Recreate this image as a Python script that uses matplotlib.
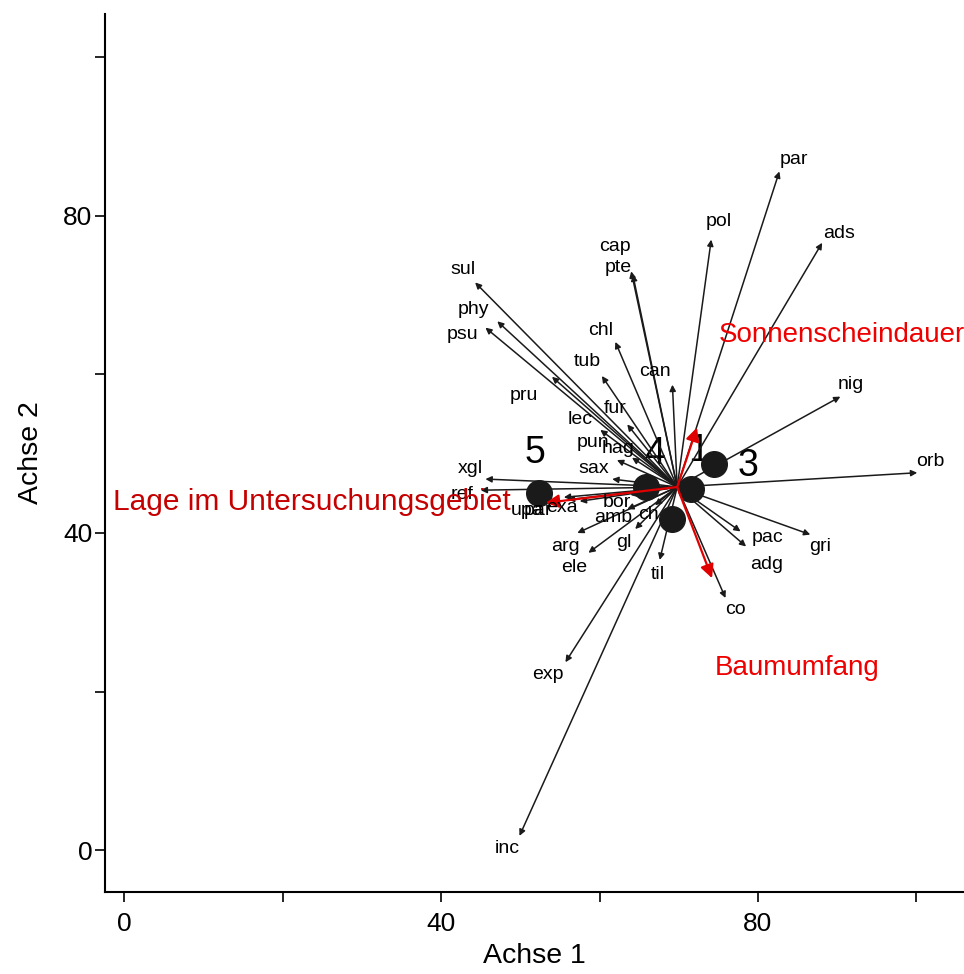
import numpy as np
import matplotlib
matplotlib.use("Agg")
import matplotlib.pyplot as plt

plt.rcParams["font.family"] = ["Liberation Sans", "DejaVu Sans"]

# Origin of all biplot arrows (centroid)
origin = (69.8, 45.8)

# Species arrows: name, arrow tip, label position
species = ["par", "ads", "pol", "cap", "pte", "sul", "phy", "psu", "chl", "tub",
           "can", "pru", "fur", "lec", "pun", "hag", "sax", "xgl", "ref", "upa",
           "par", "exa", "bor", "amb", "ch", "arg", "gl", "ele", "til", "exp",
           "inc", "co", "pac", "adg", "gri", "orb", "nig"]
tip_x = [82.7, 88.1, 74.1, 64.0, 64.2, 44.3, 47.1, 45.6, 62.0, 60.3,
         69.2, 54.0, 63.5, 60.1, 62.2, 64.1, 61.6, 45.6, 45.0, 55.5,
         56.0, 57.5, 63.9, 63.5, 67.0, 57.2, 64.5, 58.6, 67.6, 55.7,
         49.9, 75.9, 77.8, 78.5, 86.6, 100.1, 90.4]
tip_y = [85.6, 76.6, 77.0, 73.0, 72.6, 71.6, 66.7, 65.9, 64.1, 59.8,
         58.7, 59.7, 53.7, 53.0, 49.2, 49.5, 46.8, 46.8, 45.4, 44.5,
         44.2, 44.0, 44.8, 43.0, 43.5, 40.0, 40.5, 37.5, 36.6, 23.7,
         1.8, 31.8, 40.2, 38.3, 39.8, 47.6, 57.2]
lab_x = [84.5, 90.2, 75.0, 62.0, 62.4, 42.8, 44.1, 42.7, 60.2, 58.5,
         67.0, 50.5, 62.0, 57.6, 59.2, 62.4, 59.3, 43.7, 42.7, 50.9,
         52.2, 55.2, 62.2, 61.7, 66.2, 55.7, 63.1, 56.8, 67.3, 53.5,
         48.4, 77.1, 81.2, 81.1, 87.9, 101.8, 91.7]
lab_y = [87.1, 77.8, 79.3, 76.1, 73.5, 73.2, 68.2, 65.0, 65.5, 61.6,
         60.4, 57.4, 55.7, 54.3, 51.4, 50.6, 48.1, 48.1, 44.9, 42.8,
         42.8, 43.2, 43.9, 41.9, 42.3, 38.3, 38.8, 35.7, 34.8, 22.1,
         0.25, 30.3, 39.4, 36.0, 38.3, 49.0, 58.7]

# Environmental vectors
env_names = ["Sonnenscheindauer", "Baumumfang", "Lage im Untersuchungsgebiet"]
env_tip_x = [72.3, 74.2, 53.2]
env_tip_y = [53.3, 34.3, 43.8]
env_lab_x = [90.6, 85.0, 23.7]
env_lab_y = [65.0, 23.0, 43.9]
env_sizes = [20, 20, 21.5]
env_colors = ["#ee0000", "#ee0000", "#c40000"]

# Sites
site_x = [52.4, 65.9, 71.5, 74.5, 69.1]
site_y = [45.1, 45.8, 45.6, 48.7, 41.8]
site_names = ["5", "4", "1", "3", ""]
site_lab_x = [51.9, 67.0, 72.5, 78.8, 69.1]
site_lab_y = [50.1, 49.9, 50.3, 48.5, 41.8]

fig = plt.figure(figsize=(9.64, 9.74), dpi=100)
ax = fig.add_axes([0.109, 0.084, 0.891, 0.902])

for name, lx, ly in zip(site_names, site_lab_x, site_lab_y):
    ax.text(lx, ly, name, fontsize=27, ha="center", va="center", zorder=1)

for name, tx, ty, lx, ly in zip(species, tip_x, tip_y, lab_x, lab_y):
    ax.annotate("", xy=(tx, ty), xytext=origin,
                arrowprops=dict(arrowstyle="-|>", color="#1a1a1a", lw=1.1,
                                mutation_scale=9, shrinkA=0, shrinkB=0),
                zorder=2)
    ax.text(lx, ly, name, fontsize=14, ha="center", va="center", zorder=4)

ax.scatter(site_x, site_y, s=340, color="#1a1a1a", zorder=3)

for name, tx, ty, lx, ly, fs, c in zip(env_names, env_tip_x, env_tip_y,
                                       env_lab_x, env_lab_y, env_sizes, env_colors):
    ax.annotate("", xy=(tx, ty), xytext=origin,
                arrowprops=dict(arrowstyle="-|>", color="#e00000", lw=1.6,
                                mutation_scale=20, shrinkA=0, shrinkB=0),
                zorder=3.5)
    ax.text(lx, ly, name, fontsize=fs, color=c, ha="center", va="center",
            zorder=5)

ax.set_xlim(-2.4, 106)
ax.set_ylim(-5.3, 105.5)
ax.set_xticks([0, 40, 80])
ax.set_yticks([0, 40, 80])
ax.set_xticks([20, 60, 100], minor=True)
ax.set_yticks([20, 60, 100], minor=True)
ax.tick_params(which="both", direction="out", length=7, width=1.2,
               labelsize=19)
ax.tick_params(axis="x", pad=7)
ax.tick_params(axis="y", pad=2)
for side in ["top", "right"]:
    ax.spines[side].set_visible(False)
for side in ["left", "bottom"]:
    ax.spines[side].set_linewidth(1.5)

ax.set_xlabel("Achse 1", fontsize=20.5, labelpad=5)
ax.set_ylabel("Achse 2", fontsize=20.5, labelpad=14)

fig.savefig("out.png", dpi=100)
